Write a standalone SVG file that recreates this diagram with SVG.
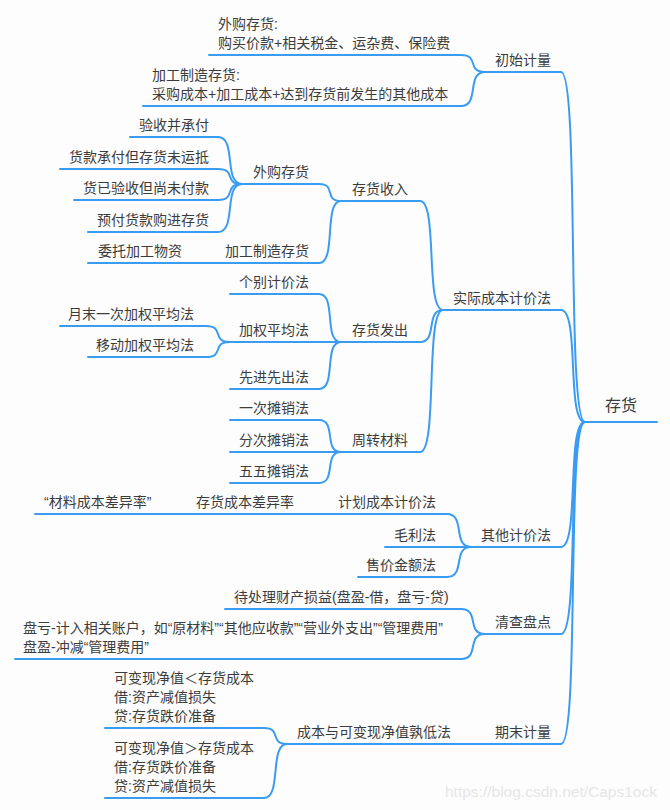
<svg xmlns="http://www.w3.org/2000/svg" width="670" height="810" viewBox="0 0 670 810">
<style>
text{font-family:"Liberation Sans","Noto Sans CJK SC",sans-serif;font-size:14px;fill:#3c3c3c}
.root text{font-size:16px}
line,path{stroke:#3a9cf0;stroke-width:2;fill:none;stroke-linecap:round}
.wm{font-size:15.5px;fill:#e6e6e6}
</style>
<rect width="670" height="810" fill="#fdfdfd"/>
<g id="connectors">
<path d="M561,72 C580,72 566,422 585,422"/>
<path d="M561,310 C580,310 566,422 585,422"/>
<path d="M561,547 C580,547 566,422 585,422"/>
<path d="M561,634 C580,634 566,422 585,422"/>
<path d="M561,744 C580,744 566,422 585,422"/>
<path d="M461,55 C480,55 466,72 485,72"/>
<path d="M461,106 C480,106 466,72 485,72"/>
<path d="M420,201 C438,201 425,310 443,310"/>
<path d="M420,342 C438,342 425,310 443,310"/>
<path d="M420,452 C438,452 425,310 443,310"/>
<path d="M319,184 C337,184 323,201 341,201"/>
<path d="M319,263 C337,263 323,201 341,201"/>
<path d="M218,137 C237,137 223,184 242,184"/>
<path d="M218,169 C237,169 223,184 242,184"/>
<path d="M218,200 C237,200 223,184 242,184"/>
<path d="M218,232 C237,232 223,184 242,184"/>
<line x1="192" y1="263" x2="216" y2="263"/>
<path d="M319,294 C337,294 323,342 341,342"/>
<line x1="319" y1="342" x2="341" y2="342"/>
<path d="M319,389 C337,389 323,342 341,342"/>
<path d="M206,326 C225,326 211,342 230,342"/>
<path d="M206,357 C225,357 211,342 230,342"/>
<path d="M319,420 C337,420 323,452 341,452"/>
<line x1="319" y1="452" x2="341" y2="452"/>
<path d="M319,483 C337,483 323,452 341,452"/>
<path d="M447,514 C466,514 452,547 471,547"/>
<line x1="447" y1="547" x2="471" y2="547"/>
<path d="M447,577 C466,577 452,547 471,547"/>
<line x1="304" y1="514" x2="328" y2="514"/>
<line x1="163" y1="514" x2="187" y2="514"/>
<path d="M461,609 C480,609 466,634 485,634"/>
<path d="M461,659 C480,659 466,634 485,634"/>
<line x1="461" y1="744" x2="485" y2="744"/>
<path d="M264,728 C282,728 269,744 287,744"/>
<path d="M264,798 C282,798 269,744 287,744"/>
</g>
<g id="n-root" class="root"><line x1="585" y1="422" x2="657" y2="422"/><text x="605" y="411">存货</text></g>
<g id="n-chushi"><line x1="485" y1="72" x2="561" y2="72"/><text x="495" y="64.5">初始计量</text></g>
<g id="n-shiji"><line x1="443" y1="310" x2="561" y2="310"/><text x="453" y="302.5">实际成本计价法</text></g>
<g id="n-qita"><line x1="471" y1="547" x2="561" y2="547"/><text x="481" y="539.5">其他计价法</text></g>
<g id="n-qingcha"><line x1="485" y1="634" x2="561" y2="634"/><text x="495" y="626.5">清查盘点</text></g>
<g id="n-qimo"><line x1="485" y1="744" x2="561" y2="744"/><text x="495" y="736.5">期末计量</text></g>
<g id="n-waigou1"><line x1="209" y1="55" x2="461" y2="55"/><text x="218" y="28.5">外购存货:</text><text x="218" y="47.5">购买价款+相关税金、运杂费、保险费</text></g>
<g id="n-jiagong1"><line x1="143" y1="106" x2="461" y2="106"/><text x="152" y="79.5">加工制造存货:</text><text x="152" y="98.5">采购成本+加工成本+达到存货前发生的其他成本</text></g>
<g id="n-shouru"><line x1="341" y1="201" x2="420" y2="201"/><text x="352" y="193.5">存货收入</text></g>
<g id="n-fachu"><line x1="341" y1="342" x2="420" y2="342"/><text x="352" y="334.5">存货发出</text></g>
<g id="n-zhouzhuan"><line x1="341" y1="452" x2="420" y2="452"/><text x="352" y="444.5">周转材料</text></g>
<g id="n-waigou2"><line x1="242" y1="184" x2="319" y2="184"/><text x="253" y="176.5">外购存货</text></g>
<g id="n-jiagong2"><line x1="216" y1="263" x2="319" y2="263"/><text x="225" y="255.5">加工制造存货</text></g>
<g id="n-yanshou"><line x1="130" y1="137" x2="218" y2="137"/><text x="139" y="129.5">验收并承付</text></g>
<g id="n-huokuan"><line x1="60" y1="169" x2="218" y2="169"/><text x="69" y="161.5">货款承付但存货未运抵</text></g>
<g id="n-huoyi"><line x1="74" y1="200" x2="218" y2="200"/><text x="83" y="192.5">货已验收但尚未付款</text></g>
<g id="n-yufu"><line x1="88" y1="232" x2="218" y2="232"/><text x="97" y="224.5">预付货款购进存货</text></g>
<g id="n-weituo"><line x1="88" y1="263" x2="192" y2="263"/><text x="98" y="255.5">委托加工物资</text></g>
<g id="n-gebie"><line x1="230" y1="294" x2="319" y2="294"/><text x="239" y="286.5">个别计价法</text></g>
<g id="n-jiaquan"><line x1="230" y1="342" x2="319" y2="342"/><text x="239" y="334.5">加权平均法</text></g>
<g id="n-xianjin"><line x1="230" y1="389" x2="319" y2="389"/><text x="239" y="381.5">先进先出法</text></g>
<g id="n-yuemo"><line x1="60" y1="326" x2="206" y2="326"/><text x="68" y="318.5">月末一次加权平均法</text></g>
<g id="n-yidong"><line x1="88" y1="357" x2="206" y2="357"/><text x="96" y="349.5">移动加权平均法</text></g>
<g id="n-yici"><line x1="230" y1="420" x2="319" y2="420"/><text x="239" y="412.5">一次摊销法</text></g>
<g id="n-fenci"><line x1="230" y1="452" x2="319" y2="452"/><text x="239" y="444.5">分次摊销法</text></g>
<g id="n-wuwu"><line x1="230" y1="483" x2="319" y2="483"/><text x="239" y="475.5">五五摊销法</text></g>
<g id="n-jihua"><line x1="328" y1="514" x2="447" y2="514"/><text x="338" y="506.5">计划成本计价法</text></g>
<g id="n-chayi"><line x1="187" y1="514" x2="304" y2="514"/><text x="196" y="506.5">存货成本差异率</text></g>
<g id="n-cailiao"><line x1="35" y1="514" x2="163" y2="514"/><text x="44" y="506.5">“材料成本差异率”</text></g>
<g id="n-maoli"><line x1="385" y1="547" x2="447" y2="547"/><text x="394" y="539.5">毛利法</text></g>
<g id="n-shoujia"><line x1="358" y1="577" x2="447" y2="577"/><text x="366" y="569.5">售价金额法</text></g>
<g id="n-daichuli"><line x1="225" y1="609" x2="461" y2="609"/><text x="234" y="601.5">待处理财产损益(盘盈-借，盘亏-贷)</text></g>
<g id="n-pankui"><line x1="15" y1="659" x2="461" y2="659"/><text x="23" y="632.5">盘亏-计入相关账户，如“原材料”“其他应收款”“营业外支出”“管理费用”</text><text x="23" y="651.5">盘盈-冲减“管理费用”</text></g>
<g id="n-dixian"><line x1="287" y1="744" x2="461" y2="744"/><text x="297" y="736.5">成本与可变现净值孰低法</text></g>
<g id="n-xiaoyu"><line x1="105" y1="728" x2="264" y2="728"/><text x="114" y="682.5">可变现净值＜存货成本</text><text x="114" y="701.5">借:资产减值损失</text><text x="114" y="720.5">贷:存货跌价准备</text></g>
<g id="n-dayu"><line x1="105" y1="798" x2="264" y2="798"/><text x="114" y="752.5">可变现净值＞存货成本</text><text x="114" y="771.5">借:存货跌价准备</text><text x="114" y="790.5">贷:资产减值损失</text></g>
<text class="wm" x="445" y="797">https://blog.csdn.net/Caps1ock</text>
</svg>
